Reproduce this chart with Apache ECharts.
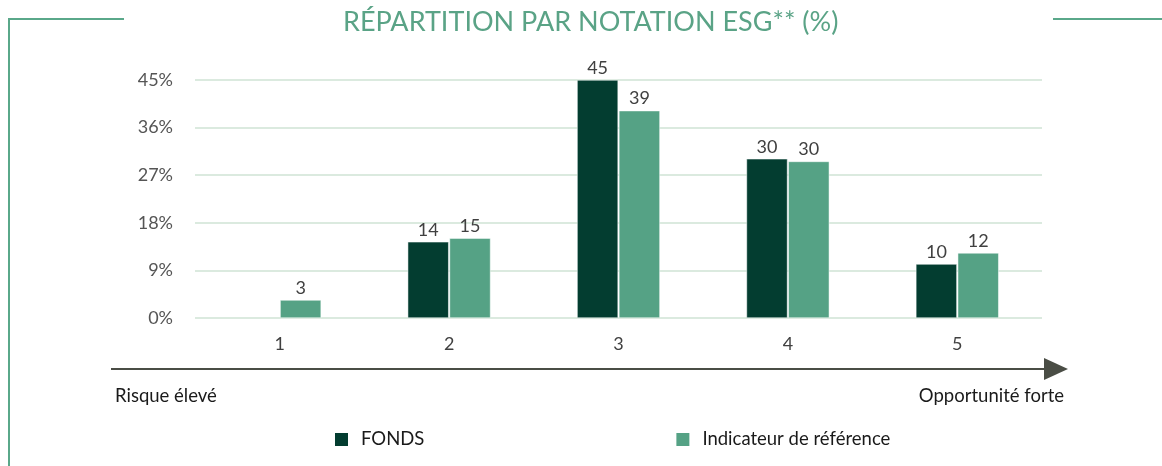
<!DOCTYPE html>
<html><head><meta charset="utf-8">
<script src="https://cdn.jsdelivr.net/npm/echarts@6/dist/echarts.min.js"></script>
<style>html,body{margin:0;padding:0;background:#fff}#c{width:1162px;height:466px}</style>
</head><body><div id="c"></div>
<script>
const categories = ['1', '2', '3', '4', '5'];
const fonds = [null, 14.4, 45.0, 30.1, 10.2];
const indicateur = [3.4, 15.1, 39.2, 29.6, 12.3];
const yTicks = [0, 9, 18, 27, 36, 45];
const seriesNames = ['FONDS', 'Indicateur de référence'];
const titleText = 'RÉPARTITION PAR NOTATION ESG** (%)';
const leftNote = 'Risque élevé';
const rightNote = 'Opportunité forte';

const FONT = 'Lato, "Open Sans", sans-serif';
const chart = echarts.init(document.getElementById('c'), null, {renderer: 'canvas'});
const labelCfg = {
  show: true, position: 'top', distance: 3, color: '#404040', fontSize: 18, fontFamily: FONT,
  formatter: p => (p.value == null ? '' : Math.round(p.value))
};
chart.setOption({
  animation: false,
  title: {
    text: titleText, left: 338, top: 4,
    textStyle: {color: '#5aa386', fontSize: 27, fontWeight: 'normal', fontFamily: FONT}
  },
  legend: {
    left: 328, top: 425, itemWidth: 15, itemHeight: 15, itemGap: 250, icon: 'rect',
    data: seriesNames,
    textStyle: {color: '#1a1a1a', fontSize: 18.5, fontFamily: FONT, padding: [0, 0, 0, 7]}
  },
  grid: {left: 195, right: 120, top: 80, bottom: 148, containLabel: false},
  xAxis: {
    type: 'category', data: categories,
    axisLine: {show: false}, axisTick: {show: false},
    axisLabel: {color: '#404040', fontSize: 18, fontFamily: FONT, margin: 17}
  },
  yAxis: {
    type: 'value', min: 0, max: 45, interval: 9,
    axisLine: {show: false}, axisTick: {show: false},
    axisLabel: {color: '#555', fontSize: 18, fontFamily: FONT, margin: 22,
      formatter: v => (yTicks.indexOf(v) >= 0 ? v + '%' : '')},
    splitLine: {lineStyle: {color: '#cfe3d5', width: 1.5}}
  },
  series: [
    {name: seriesNames[0], type: 'bar', data: fonds, barWidth: 41, barGap: '2%',
     itemStyle: {color: '#033d30', borderColor: '#fff', borderWidth: 0.5}, label: labelCfg},
    {name: seriesNames[1], type: 'bar', data: indicateur, barWidth: 41,
     itemStyle: {color: '#55a285', borderColor: '#fff', borderWidth: 0.5}, label: labelCfg}
  ],
  graphic: [
    {type: 'polyline', shape: {points: [[124, 19], [9, 19], [9, 466]]},
     style: {stroke: '#5aa88a', lineWidth: 2, fill: null}},
    {type: 'line', shape: {x1: 1053, y1: 19, x2: 1162, y2: 19},
     style: {stroke: '#5aa88a', lineWidth: 2}},
    {type: 'line', shape: {x1: 111, y1: 369, x2: 1046, y2: 369},
     style: {stroke: '#4a4d45', lineWidth: 2}},
    {type: 'polygon', shape: {points: [[1044, 358], [1068, 369], [1044, 380]]},
     style: {fill: '#4a4d45'}},
    {type: 'text', left: 115, top: 387,
     style: {text: leftNote, fill: '#1a1a1a', font: '18.5px ' + FONT}},
    {type: 'text', right: 1162 - 1064, top: 387,
     style: {text: rightNote, fill: '#1a1a1a', font: '18.5px ' + FONT}}
  ]
});
</script></body></html>
